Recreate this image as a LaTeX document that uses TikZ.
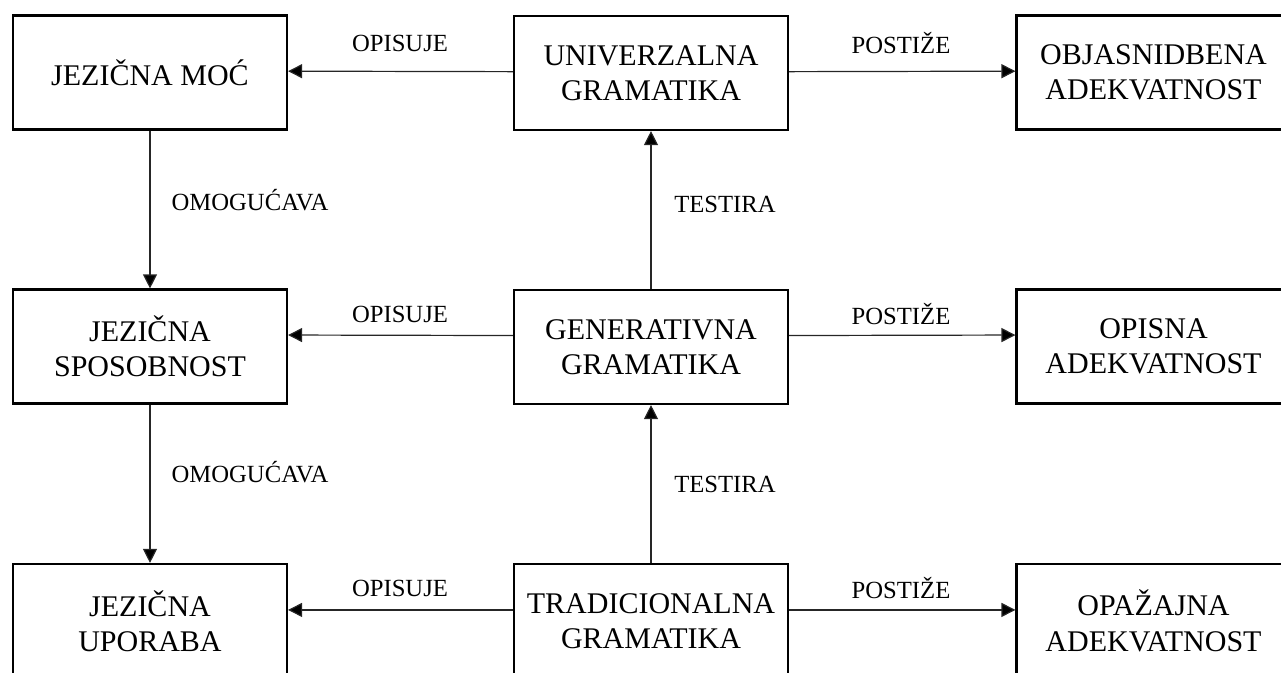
\documentclass[tikz,border=0pt]{standalone}
\usepackage{fontspec}
\setmainfont{Liberation Serif}
\usetikzlibrary{arrows.meta}
\begin{document}
\begin{tikzpicture}[x=0.75pt,y=-0.75pt,
  box/.style={draw, line width=1.6pt, minimum width=205.5pt, minimum height=85.5pt,
    inner sep=0pt, align=center, font=\fontsize{22.5}{26.5}\selectfont},
  lbl/.style={font=\fontsize{18.5}{22}\selectfont, inner sep=0pt},
  conn/.style={line width=0.9pt, draw=black!85, -{Triangle[length=10.5pt,width=10.5pt,fill=black]}}]
\useasboundingbox (0,0) rectangle (1281,673);
\clip (0,0) rectangle (1281,673);
\node[box] (jm) at (150,72.5) {JEZIČNA MOĆ};
\node[box] (ug) at (651,73) {UNIVERZALNA\\GRAMATIKA};
\node[box] (oa) at (1153.5,72.5) {OBJASNIDBENA\\ADEKVATNOST};
\node[box] (js) at (150,346.5) {JEZIČNA\\SPOSOBNOST};
\node[box] (gg) at (651,347) {GENERATIVNA\\GRAMATIKA};
\node[box] (opa) at (1153.5,346.5) {OPISNA\\ADEKVATNOST};
\node[box] (ju) at (150,621) {JEZIČNA\\UPORABA};
\node[box] (tg) at (651,621) {TRADICIONALNA\\GRAMATIKA};
\node[box] (oja) at (1153.5,621) {OPAŽAJNA\\ADEKVATNOST};
% top row
\draw[conn] ([yshift=1pt]ug.west) -- ([yshift=1pt]jm.east);
\draw[conn] ([yshift=1pt]ug.east) -- ([yshift=1pt]oa.west);
% middle row
\draw[conn] ([yshift=8.6pt]gg.west) -- ([yshift=8.6pt]js.east);
\draw[conn] ([yshift=8.6pt]gg.east) -- ([yshift=8.6pt]opa.west);
% bottom row
\draw[conn] ([yshift=8.3pt]tg.west) -- ([yshift=8.3pt]ju.east);
\draw[conn] ([yshift=8.3pt]tg.east) -- ([yshift=8.3pt]oja.west);
% verticals
\draw[conn] (jm.south) -- (js.north);
\draw[conn] (js.south) -- (ju.north);
\draw[conn] (gg.north) -- (ug.south);
\draw[conn] (tg.north) -- (gg.south);
% labels
\node[lbl] (l1) at (400,43) {OPISUJE};
\node[lbl] (l2) at (901,43) {POSTIŽE};
\node[lbl] (l3) at (400,314) {OPISUJE};
\node[lbl] (l4) at (901,314) {POSTIŽE};
\node[lbl] (l5) at (400,588) {OPISUJE};
\node[lbl] (l6) at (901,588) {POSTIŽE};
\node[lbl] (l7) at (250,200) {OMOGUĆAVA};
\node[lbl] (l8) at (250,472) {OMOGUĆAVA};
\node[lbl] (l9) at (725,204) {TESTIRA};
\node[lbl] (l10) at (725,484) {TESTIRA};
\end{tikzpicture}
\end{document}
